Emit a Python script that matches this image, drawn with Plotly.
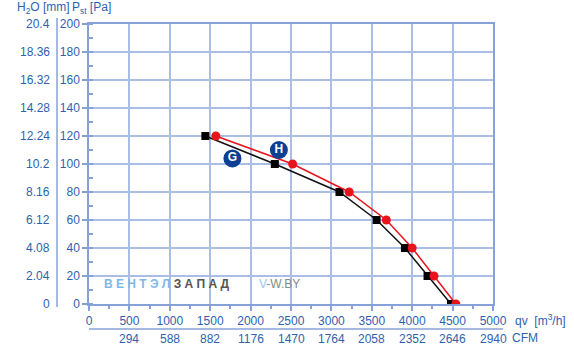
import plotly.graph_objects as go

# Data
g_flow = [1440, 2300, 3100, 3560, 3910, 4190, 4480]
g_pressure = [120, 100, 80, 60, 40, 20, 0]
h_flow = [1570, 2520, 3220, 3680, 4000, 4270, 4540]
h_pressure = [120, 100, 80, 60, 40, 20, 0]

label_names = ["G", "H"]
label_flow = [1775, 2350]
label_pressure = [104, 110]

x_ticks = [0, 500, 1000, 1500, 2000, 2500, 3000, 3500, 4000, 4500, 5000]
cfm_labels = ["294", "588", "882", "1176", "1470", "1764", "2058", "2352", "2646", "2940"]
pa_ticks = [0, 20, 40, 60, 80, 100, 120, 140, 160, 180, 200]
h2o_labels = ["0", "2.04", "4.08", "6.12", "8.16", "10.2", "12.24", "14.28", "16.32", "18.36", "20.4"]

TXT = "#2f5fae"
GRID = "#a9bde6"
LINE = "#86a0d8"
FONT = "Liberation Sans, Arial, sans-serif"

fig = go.Figure()
fig.add_trace(go.Scatter(x=g_flow, y=g_pressure, mode="lines+markers",
                         line=dict(color="#111111", width=1.5),
                         marker=dict(symbol="square", size=8, color="#000000"),
                         hoverinfo="skip"))
fig.add_trace(go.Scatter(x=h_flow, y=h_pressure, mode="lines+markers",
                         line=dict(color="#e8141c", width=1.5),
                         marker=dict(symbol="circle", size=9, color="#e8141c"),
                         hoverinfo="skip"))
fig.add_trace(go.Scatter(x=label_flow, y=label_pressure, mode="markers+text",
                         text=label_names, textposition="middle center",
                         textfont=dict(color="white", size=12, family="Liberation Sans, Arial", weight="bold"),
                         marker=dict(symbol="circle", size=18, color="#0d3f93"),
                         hoverinfo="skip"))

ann = []
# H2O labels
for v, lab in zip(pa_ticks, h2o_labels):
    ann.append(dict(x=-0.091, xref="paper", y=v, yref="y", text=lab, showarrow=False,
                    xanchor="right", yanchor="middle", font=dict(color=TXT, size=12, family=FONT)))
# CFM labels
for v, lab in zip(x_ticks[1:], cfm_labels):
    ann.append(dict(x=v, xref="x", y=-0.125, yref="paper", text=lab, showarrow=False,
                    xanchor="center", yanchor="middle", font=dict(color=TXT, size=12, family=FONT)))
ann.append(dict(x=1.05, xref="paper", y=-0.057, yref="paper", text="qv  [m<sup>3</sup>/h]",
                showarrow=False, xanchor="left", yanchor="middle", font=dict(color=TXT, size=12, family=FONT)))
ann.append(dict(x=1.043, xref="paper", y=-0.122, yref="paper", text="CFM",
                showarrow=False, xanchor="left", yanchor="middle", font=dict(color=TXT, size=12, family=FONT)))
ann.append(dict(x=-0.183, xref="paper", y=1.057, yref="paper", text="H<sub>2</sub>O [mm]",
                showarrow=False, xanchor="left", yanchor="middle", font=dict(color=TXT, size=12, family=FONT)))
ann.append(dict(x=-0.047, xref="paper", y=1.057, yref="paper", text="P<sub>st</sub> [Pa]",
                showarrow=False, xanchor="left", yanchor="middle", font=dict(color=TXT, size=12, family=FONT)))
# watermark
ann.append(dict(x=0.031, xref="paper", y=0.071, yref="paper",
                text="<span style='color:#7fb8e8'>В Е Н Т Э Л </span><span style='color:#555555'>З А П А Д</span>",
                showarrow=False, xanchor="left", yanchor="middle",
                font=dict(size=12, family="Liberation Sans, Arial", weight="bold")))
ann.append(dict(x=0.415, xref="paper", y=0.071, yref="paper",
                text="<span style='color:#9cc6ec'>V</span><span style='color:#888888'>-W.BY</span>",
                showarrow=False, xanchor="left", yanchor="middle",
                font=dict(size=12, family=FONT)))

shapes = [
    dict(type="line", xref="paper", yref="paper", x0=-0.0792, x1=-0.0792, y0=1.021, y1=-0.011,
         line=dict(color=LINE, width=1.5)),
    dict(type="line", xref="paper", yref="paper", x0=0, x1=1.025, y0=-0.089, y1=-0.089,
         line=dict(color=LINE, width=1.5)),
]

fig.update_layout(
    width=574, height=351,
    margin=dict(l=89, r=81, t=24, b=47),
    paper_bgcolor="white", plot_bgcolor="white",
    showlegend=False,
    annotations=ann, shapes=shapes,
    font=dict(family=FONT, color=TXT, size=12),
)
fig.update_xaxes(range=[0, 5000], tickvals=x_ticks, ticktext=[str(v) for v in x_ticks],
                 showgrid=True, gridcolor=GRID, gridwidth=1.5,
                 showline=True, linecolor=LINE, linewidth=1.5, mirror=True,
                 ticks="outside", ticklen=5, tickcolor=LINE, tickwidth=1.5,
                 minor=dict(dtick=250, tick0=0, ticks="outside", ticklen=3, tickcolor=LINE, showgrid=False),
                 zeroline=False, tickfont=dict(color=TXT, size=12, family=FONT), fixedrange=True)
fig.update_yaxes(range=[0, 200], tickvals=pa_ticks, ticktext=[str(v) for v in pa_ticks],
                 showgrid=True, gridcolor=GRID, gridwidth=1.5,
                 showline=True, linecolor=LINE, linewidth=1.5, mirror=True,
                 ticks="outside", ticklen=5, tickcolor=LINE, tickwidth=1.5,
                 minor=dict(dtick=10, tick0=0, ticks="inside", ticklen=4, tickcolor=LINE, showgrid=False),
                 zeroline=False, tickfont=dict(color=TXT, size=12, family=FONT), fixedrange=True)

fig.write_html("out.html")
